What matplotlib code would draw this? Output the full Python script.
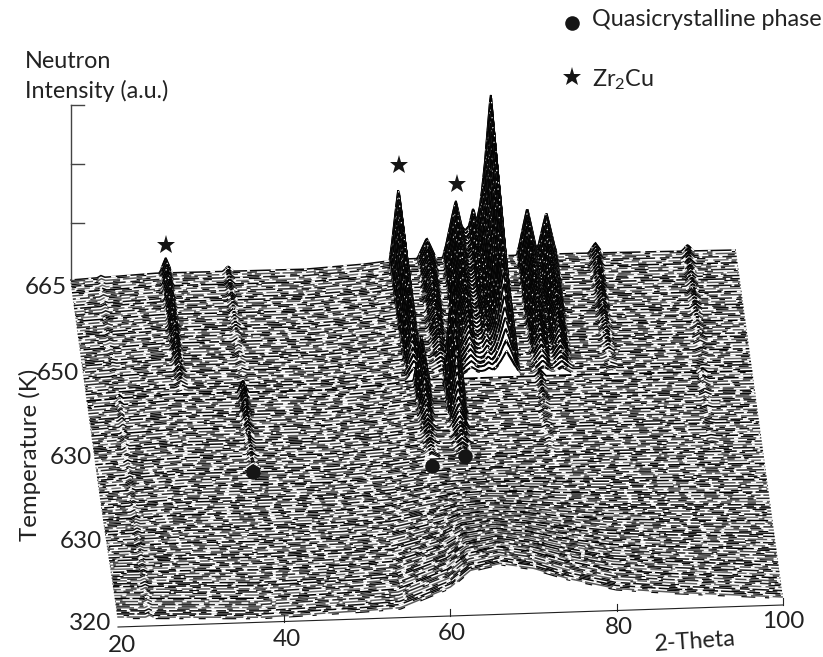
import numpy as np
import matplotlib
matplotlib.use("Agg")
import matplotlib.pyplot as plt

plt.rcParams['font.family'] = ['Lato', 'DejaVu Sans']
plt.rcParams['mathtext.default'] = 'regular'
plt.rcParams['lines.scale_dashes'] = False

# ---- values (peak tables and per-scan envelopes) ----
# NOTE: the surface is a reconstruction from these tables: individual scans are
# not legible. The grain of the scans is a line *style* (dash patterns and row
# shades below), not data: no noise is added to any value.
crystal_theta  = [23.6, 31.4, 38.9, 59.4, 62.8, 66.3, 68.4, 70.5, 74.9, 77.2, 83.1, 94.2]
crystal_height = [2, 15, 5, 72, 20, 57, 49, 163, 47, 42, 10, 6]
crystal_width  = [0.5, 0.8, 0.7, 1.1, 1.2, 1.6, 1.4, 1.7, 1.3, 1.3, 0.9, 0.8]

quasi_theta  = [23.8, 38.7, 60.2, 64.0, 74.5, 94.0]
quasi_height = [2, 8, 40, 100, 4, 3]
quasi_floor  = [2, 4, 4, 4, 2, 1]
quasi_width  = [0.5, 0.7, 1.0, 1.2, 0.7, 0.7]

profile_offset = [-1.0, -0.75, -0.5, -0.25, -0.1, 0.0, 0.1, 0.25, 0.5, 0.75, 1.0]
profile_value  = [0.0, 0.20, 0.48, 0.75, 0.90, 1.0, 0.90, 0.75, 0.48, 0.20, 0.0]

back_theta = [20, 30, 48, 55, 60, 80, 100]
back_level = [0, 4, 3, 6, 10, 10, 8]
hump_theta = [20, 37, 49, 54, 60, 62.4, 66, 70, 74, 80, 86, 94, 100]
hump_level = [10, 5, 8, 10, 29, 45, 51, 45, 34, 22, 17, 12, 8]

crystal_fade = [1.00, 1.00, 0.98, 0.97, 0.96, 0.95, 0.94, 0.93, 0.92, 0.91,
                0.90, 0.89, 0.88, 0.87, 0.86, 0.85, 0.83, 0.81, 0.79, 0.77,
                0.75, 0.73, 0.71, 0.69, 0.67, 0.65, 0.62, 0.59, 0.56, 0.53,
                0.49, 0.44, 0.39, 0.34, 0.29, 0.24, 0.19, 0.14] + [0.0] * 72
quasi_fade = [0.0] * 38 + [1.00, 0.92, 0.85, 0.78, 0.72, 0.66, 0.60, 0.54, 0.48, 0.42,
                           0.36, 0.30, 0.25, 0.20, 0.16, 0.13, 0.10, 0.08, 0.07, 0.06,
                           0.05, 0.04, 0.03, 0.02] + [0.0] * 48
hump_weight = [0.0] * 62 + [0.01, 0.02, 0.03, 0.04, 0.05, 0.06, 0.07, 0.08, 0.09, 0.10,
                            0.12, 0.14, 0.16, 0.18, 0.20, 0.22, 0.24, 0.26, 0.28, 0.30,
                            0.33, 0.36, 0.39, 0.42, 0.45, 0.48, 0.51, 0.54, 0.57, 0.60,
                            0.63, 0.66, 0.69, 0.72, 0.75, 0.78, 0.81, 0.84, 0.87, 0.90,
                            0.92, 0.94, 0.95, 0.96, 0.97, 0.98, 0.99, 1.00]

temp_labels = ['665', '650', '630', '630', '320']
theta_ticks = [20, 40, 60, 80, 100]

star_theta = [31.4, 59.5, 66.45]
star_level = [32, 104, 83]
circle_theta = [38.7, 60.2, 64.4]
circle_scan = [62, 62, 59]

# ---- projection of (2-theta, scan, intensity) on to the page ----
N_SCANS = len(hump_weight)
def project(theta, scan, level):
    theta = np.asarray(theta, float)
    depth = np.asarray(scan, float) / (N_SCANS - 1)
    x = 71 + (theta - 20) * 8.31 + depth * 47
    y = 280 - (theta - 20) * 0.275 + depth * 347 - np.asarray(level, float)
    return x, y

fig = plt.figure(figsize=(8.23, 6.57), dpi=100)
ax = fig.add_axes([0, 0, 1, 1])
ax.set_xlim(0, 823)
ax.set_ylim(657, 0)
ax.axis('off')

grid = np.arange(20, 100.01, 0.12)
def peaks(thetas, heights, widths):
    total = np.zeros_like(grid)
    for t, h, w in zip(thetas, heights, widths):
        total += h * np.interp((grid - t) / w, profile_offset, profile_value, left=0, right=0)
    return total

back = np.interp(grid, back_theta, back_level)
hump = np.interp(grid, hump_theta, hump_level)
crystal = peaks(crystal_theta, crystal_height, crystal_width)
quasi = peaks(quasi_theta, quasi_height, quasi_width)
quasi_low = peaks(quasi_theta, quasi_floor, quasi_width)
edge_low = peaks(quasi_theta[:1], quasi_floor[:1], quasi_width[:1])

# ---- row styling (patterns in points) ----
row_shades = ['#0a0a0a', '#5a5a5a', '#1a1a1a', '#707070', '#000000', '#4a4a4a', '#2a2a2a', '#666666', '#111111']
hole_patterns = [(2.6, 10.0, 2.0, 15.0, 3.4, 8.0), (2.0, 14.0, 3.0, 7.0, 2.2, 18.0),
                 (3.4, 7.0, 2.0, 12.0, 2.6, 16.0), (2.2, 17.0, 2.0, 9.0, 3.8, 11.0),
                 (3.0, 13.0, 2.6, 8.0, 2.0, 20.0)]
bridge_patterns = [(7.0, 9.0, 4.0, 14.0, 9.0, 5.0), (5.0, 12.0, 10.0, 7.0, 3.0, 11.0),
                   (9.0, 6.0, 6.0, 15.0, 4.0, 10.0), (4.0, 8.0, 8.0, 12.0, 6.0, 7.0)]
row_phase = [0.0, 17.3, 5.9, 29.1, 11.7, 37.3, 23.9, 3.1, 19.7, 41.3, 8.3, 31.9, 14.9]

for s in range(N_SCANS):
    w = hump_weight[s]
    ridge = crystal * crystal_fade[s] + quasi * quasi_fade[s]
    if 38 <= s <= 62:
        ridge = ridge + quasi_low
    elif s > 62:
        ridge = ridge + edge_low
    level = back * (1 - w) + hump * w + ridge
    x, y = project(grid, s, level)
    bx, by = project(grid, s, np.full_like(grid, -1.0))
    ax.fill(np.r_[x, bx[::-1]], np.r_[y, by[::-1]], color='white', lw=0, zorder=2)
    on_ridge = ridge > 3.5
    y_flat = np.where(on_ridge, np.nan, y)
    y_ridge = np.where(on_ridge, y, np.nan)
    ph = row_phase[s % len(row_phase)]
    ax.plot(x, y, color='#000000' if s == 38 else row_shades[s % len(row_shades)],
            lw=1.3 if s == 38 else 1.1, solid_joinstyle='miter', zorder=2)
    ax.plot(x, y + 1.5, color='#0a0a0a', lw=0.9, zorder=2,
            ls=(ph, bridge_patterns[s % len(bridge_patterns)]), dash_capstyle='butt')
    # the rows run solid black across a ridge
    ax.plot(x, y_ridge, color='#050505', lw=1.35, solid_joinstyle='miter', zorder=2)
    # small white breaks only on the flat part of the row, pin-holes on the ridges
    ax.plot(x, y_flat, color='white', lw=1.3, zorder=2,
            ls=(ph * 0.6, hole_patterns[s % len(hole_patterns)]), dash_capstyle='butt')
    ax.plot(x, y_ridge, color='white', lw=0.8, zorder=2,
            ls=(ph * 0.3, (1.0, 13.0, 1.0, 19.0)), dash_capstyle='butt')

# ---- axes ----
axis_c = '#444444'
x0, y0 = project([20, 100], N_SCANS - 1, [0, 0])
ax.plot(x0, y0, color='#222222', lw=0.8, zorder=3)
for t in theta_ticks[1:]:
    xt, yt = project([t, t], N_SCANS - 1, [0, 7])
    ax.plot(xt, yt, color='#222222', lw=0.8, zorder=3)
xi, yi = project([20, 20], 0, [0, 175])
ax.plot(xi, yi, color=axis_c, lw=1.0, zorder=3)
for lv in [0, 57, 116, 175]:
    xa, ya = project(20, 0, lv)
    ax.plot([xa, xa + 13], [ya, ya], color=axis_c, lw=1.0, zorder=3)

# ---- markers ----
sx, sy = project(star_theta, 0, star_level)
ax.plot(sx, sy, ls='', marker='*', ms=14, color='#151515', mew=0, zorder=4)
cx, cy = project(circle_theta, circle_scan, [0, 0, 0])
ax.plot(cx, cy, ls='', marker='o', ms=10.5, color='#151515', mew=0, zorder=4)
ax.plot([572], [23], ls='', marker='o', ms=10.5, color='#151515', mew=0, zorder=4)
ax.plot([572], [77], ls='', marker='*', ms=14, color='#151515', mew=0, zorder=4)

# ---- text ----
tc = '#222222'
fs = 16.8
ax.text(592, 20, 'Quasicrystalline phase', fontsize=fs, color=tc, va='center', ha='left')
ax.text(592, 80, 'Zr$_2$Cu', fontsize=fs, color=tc, va='center', ha='left')
ax.text(25, 62, 'Neutron', fontsize=fs, color=tc, va='center', ha='left')
ax.text(25, 91, 'Intensity (a.u.)', fontsize=fs, color=tc, va='center', ha='left')
ax.text(30, 455, 'Temperature (K)', fontsize=17.3, color=tc, rotation=90, va='center', ha='center')
ax.text(695, 642, '2-Theta', fontsize=fs, color=tc, rotation=4, va='center', ha='center')

for lab, lx, ly in zip(temp_labels, [46, 58, 71, 81, 90], [288, 373, 458, 542, 623]):
    ax.text(lx, ly, lab, fontsize=17.5, color=tc, va='center', ha='center')
for t, lx, ly in zip(theta_ticks, [122, 287, 452, 619, 783], [646, 640, 634, 627, 621]):
    ax.text(lx, ly, str(t), fontsize=17.5, color=tc, va='center', ha='center')

fig.savefig('out.png', dpi=100)
